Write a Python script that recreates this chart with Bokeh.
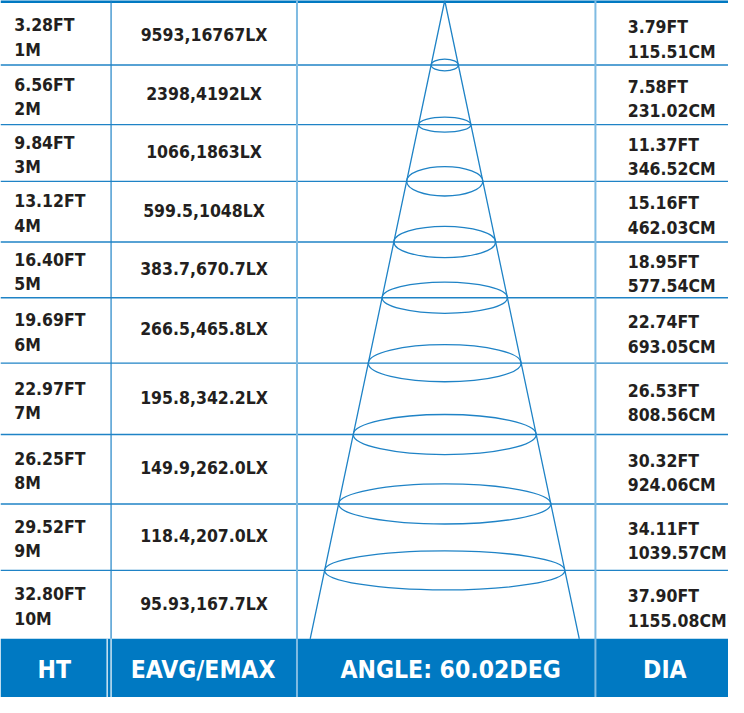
from bokeh.plotting import figure
from bokeh.models import Range1d, ColumnDataSource
from bokeh.core.properties import value
from bokeh.embed import file_html
from bokeh.resources import INLINE

# ---------------- data ----------------
ht_ft = ["3.28FT", "6.56FT", "9.84FT", "13.12FT", "16.40FT", "19.69FT", "22.97FT", "26.25FT", "29.52FT", "32.80FT"]
ht_m = ["1M", "2M", "3M", "4M", "5M", "6M", "7M", "8M", "9M", "10M"]
eavg = ["9593", "2398", "1066", "599.5", "383.7", "266.5", "195.8", "149.9", "118.4", "95.93"]
emax = ["16767", "4192", "1863", "1048", "670.7", "465.8", "342.2", "262.0", "207.0", "167.7"]
dia_ft = ["3.79FT", "7.58FT", "11.37FT", "15.16FT", "18.95FT", "22.74FT", "26.53FT", "30.32FT", "34.11FT", "37.90FT"]
dia_cm = ["115.51CM", "231.02CM", "346.52CM", "462.03CM", "577.54CM", "693.05CM", "808.56CM", "924.06CM", "1039.57CM", "1155.08CM"]
headers = ["HT", "EAVG/EMAX", "ANGLE: 60.02DEG", "DIA"]

# ---------------- layout (reference pixel space) ----------------
W, H = 744, 713
row_edges = [0, 66, 127, 185, 247, 304, 371, 444, 515, 583, 653]
header_top, header_bot = 653, 713
col_x = [113, 303, 608]
header_cx = [55, 207, 460, 679]
ell_half_h = [6, 7.7, 15, 16, 16, 19, 20.5, 20.5, 20]
apex_x = 454
cone_half_bottom = 137.5

FONT = "DejaVu Sans Condensed"
DARK = "#231f20"
BLUE = "#0079c2"
LINE = "#1f83c6"
LIGHT = "#7fbbe2"

p = figure(width=728, height=697, output_backend="svg", toolbar_location=None,
           x_range=Range1d(0, W), y_range=Range1d(H, 0), min_border=0)
p.axis.visible = False
p.xgrid.visible = False
p.ygrid.visible = False
p.outline_line_color = None
p.background_fill_color = "white"
p.border_fill_color = "white"

# header band
p.quad(left=0, right=W, top=header_top, bottom=header_bot, fill_color=BLUE, line_color=None)

# horizontal row lines
inner = row_edges[1:-1]
p.segment(x0=[0] * len(inner), x1=[W] * len(inner), y0=inner, y1=inner, line_color=LINE, line_width=1.4)
# top border
p.segment(x0=[0], x1=[W], y0=[1], y1=[1], line_color=BLUE, line_width=3)

# vertical column lines
p.segment(x0=[col_x[0]], x1=[col_x[0]], y0=[0], y1=[header_top], line_color=LINE, line_width=1.2)
p.segment(x0=[109, 113], x1=[109, 113], y0=[header_top] * 2, y1=[header_bot] * 2, line_color="white", line_width=1.2)
p.segment(x0=col_x[1:], x1=col_x[1:], y0=[0, 0], y1=[header_bot, header_bot], line_color=LIGHT, line_width=2)

# cone
slope = cone_half_bottom / header_top
p.line(x=[apex_x - cone_half_bottom, apex_x, apex_x + cone_half_bottom], y=[header_top, 0, header_top],
       line_color=LINE, line_width=1.3)
ys = inner
p.ellipse(x=[apex_x] * len(ys), y=ys, width=[2 * slope * y for y in ys],
          height=[2 * h for h in ell_half_h], fill_color=None, line_color=LINE, line_width=1.3)

# texts
fs = 17.5
mids = [(row_edges[i] + row_edges[i + 1]) / 2 for i in range(10)]
mids[0] += 3
src_l = ColumnDataSource(dict(x=[14] * 20, y=[m - 10.5 for m in mids] + [m + 14.5 for m in mids],
                              t=ht_ft + ht_m))
p.text(x="x", y="y", text="t", source=src_l, text_font=value(FONT), text_font_style="bold",
       text_font_size=f"{fs}px", text_color=DARK, text_align="left", text_baseline="middle")
src_r = ColumnDataSource(dict(x=[641] * 20, y=[m - 8.5 for m in mids] + [m + 16.5 for m in mids],
                              t=dia_ft + dia_cm))
p.text(x="x", y="y", text="t", source=src_r, text_font=value(FONT), text_font_style="bold",
       text_font_size=f"{fs}px", text_color=DARK, text_align="left", text_baseline="middle")
src_m = ColumnDataSource(dict(x=[208] * 10, y=[m - 1 for m in mids],
                              t=[f"{a},{b}LX" for a, b in zip(eavg, emax)]))
p.text(x="x", y="y", text="t", source=src_m, text_font=value(FONT), text_font_style="bold",
       text_font_size=f"{fs}px", text_color=DARK, text_align="center", text_baseline="middle")

hfs = 24.5
src_h = ColumnDataSource(dict(x=header_cx, y=[684] * 4, t=headers))
p.text(x="x", y="y", text="t", source=src_h, text_font=value(FONT), text_font_style="bold",
       text_font_size=f"{hfs}px", text_color="white", text_align="center", text_baseline="middle")

open("out.html", "w").write(file_html(p, INLINE))
